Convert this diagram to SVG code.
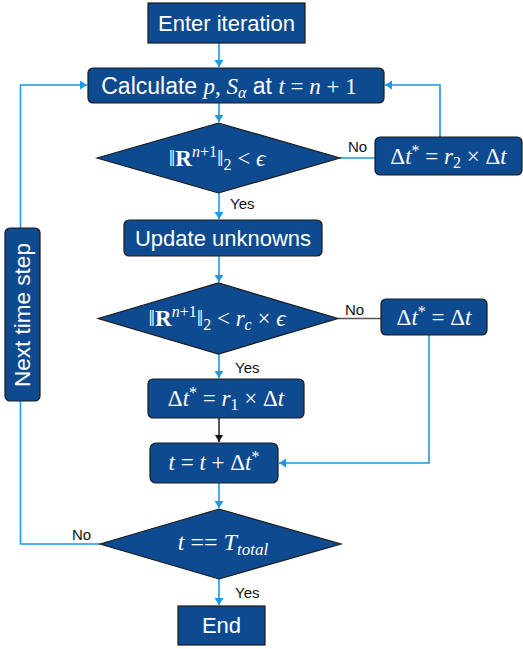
<svg xmlns="http://www.w3.org/2000/svg" width="523" height="649" viewBox="0 0 523 649">
<defs>
<marker id="ab" markerUnits="userSpaceOnUse" markerWidth="10" markerHeight="10" refX="7" refY="4.5" orient="auto"><path d="M0,0 L7,4.5 L0,9 Z" fill="#1a9ae6"/></marker>
<marker id="ak" markerUnits="userSpaceOnUse" markerWidth="10" markerHeight="10" refX="7" refY="4" orient="auto"><path d="M0,0 L7,4 L0,8 Z" fill="#111"/></marker>
<style>
.n{fill:#0e4a90;stroke:#1a1a1a;stroke-width:1.2}
.t{font-family:"Liberation Sans",Arial,sans-serif;font-size:22px;fill:#fff;text-anchor:middle}
.m{font-family:"Liberation Serif","DejaVu Serif",serif;font-size:23px;fill:#fff;text-anchor:middle}
.s{font-family:"Liberation Serif","DejaVu Serif",serif;font-size:23px}
.i{font-style:italic}
.b{font-weight:bold}
.l{font-family:"Liberation Sans",Arial,sans-serif;font-size:15px;fill:#111}
.c{fill:none;stroke:#1a9ae6;stroke-width:1.6}
.g{fill:none;stroke:#555;stroke-width:1.4}
.k{fill:none;stroke:#111;stroke-width:1.4}
</style>
</defs>
<g id="connectors">
<line class="c" x1="219" y1="43" x2="219" y2="67" marker-end="url(#ab)"/>
<line class="c" x1="219" y1="103" x2="219" y2="122" marker-end="url(#ab)"/>
<line class="c" x1="219" y1="193" x2="219" y2="219" marker-end="url(#ab)"/>
<line class="c" x1="340" y1="158" x2="375" y2="158"/>
<polyline class="c" points="440,137 440,85 385,85" marker-end="url(#ab)"/>
<line class="c" x1="219" y1="256" x2="219" y2="282" marker-end="url(#ab)"/>
<line class="g" x1="338" y1="318.5" x2="381" y2="318.5"/>
<polyline class="c" points="429,335 429,463 279,463" marker-end="url(#ab)"/>
<line class="c" x1="219" y1="354" x2="219" y2="378" marker-end="url(#ab)"/>
<line class="k" x1="219" y1="418" x2="219" y2="442" marker-end="url(#ak)"/>
<line class="c" x1="219" y1="483" x2="219" y2="508" marker-end="url(#ab)"/>
<line class="c" x1="219" y1="579" x2="219" y2="605" marker-end="url(#ab)"/>
<polyline class="c" points="100,544 20.5,544 20.5,85 87,85" marker-end="url(#ab)"/>
<text class="l" x="230" y="209">Yes</text>
<text class="l" x="348" y="152">No</text>
<text class="l" x="345" y="315">No</text>
<text class="l" x="235" y="373">Yes</text>
<text class="l" x="72" y="540">No</text>
<text class="l" x="235" y="598">Yes</text>
</g>
<g id="enter">
<rect class="n" x="148" y="3" width="157" height="40"/>
<text class="t" x="226.5" y="31">Enter iteration</text>
</g>
<g id="calculate">
<rect class="n" x="88" y="68" width="296" height="35" rx="5"/>
<text class="t" x="229" y="93.5" style="font-size:23px">Calculate <tspan class="s i">p</tspan><tspan class="s">, </tspan><tspan class="s i">S</tspan><tspan class="s i" dy="4" style="font-size:16px">α</tspan><tspan dy="-4"> at </tspan><tspan class="s i">t</tspan><tspan class="s"> = </tspan><tspan class="s i">n</tspan><tspan class="s"> + 1</tspan></text>
</g>
<g id="check1">
<polygon class="n" points="97,158 218.5,123 340,158 218.5,193"/>
<text class="m" x="217" y="166">‖<tspan class="b">R</tspan><tspan class="i" dy="-9" style="font-size:16px">n</tspan><tspan style="font-size:16px">+1</tspan><tspan dy="9">‖</tspan><tspan dy="4" style="font-size:16px">2</tspan><tspan dy="-4"> &lt; </tspan><tspan class="i">ϵ</tspan></text>
</g>
<g id="reduce2">
<rect class="n" x="375" y="137" width="147" height="38" rx="5"/>
<text class="m" x="448.5" y="164">Δ<tspan class="i">t</tspan><tspan dy="-8" style="font-size:16px">*</tspan><tspan dy="8"> = </tspan><tspan class="i">r</tspan><tspan dy="4" style="font-size:16px">2</tspan><tspan dy="-4"> × Δ</tspan><tspan class="i">t</tspan></text>
</g>
<g id="update">
<rect class="n" x="124" y="220" width="198" height="36" rx="5"/>
<text class="t" x="223" y="245.5">Update unknowns</text>
</g>
<g id="check2">
<polygon class="n" points="98,318.5 218.5,283 338,318.5 218.5,354"/>
<text class="m" x="217" y="326">‖<tspan class="b">R</tspan><tspan class="i" dy="-9" style="font-size:16px">n</tspan><tspan style="font-size:16px">+1</tspan><tspan dy="9">‖</tspan><tspan dy="4" style="font-size:16px">2</tspan><tspan dy="-4"> &lt; </tspan><tspan class="i">r</tspan><tspan class="i" dy="4" style="font-size:16px">c</tspan><tspan dy="-4"> × </tspan><tspan class="i">ϵ</tspan></text>
</g>
<g id="keep">
<rect class="n" x="381" y="299" width="106" height="36" rx="5"/>
<text class="m" x="434" y="325">Δ<tspan class="i">t</tspan><tspan dy="-8" style="font-size:16px">*</tspan><tspan dy="8"> = Δ</tspan><tspan class="i">t</tspan></text>
</g>
<g id="reduce1">
<rect class="n" x="148" y="379" width="156" height="39" rx="5"/>
<text class="m" x="226" y="406">Δ<tspan class="i">t</tspan><tspan dy="-8" style="font-size:16px">*</tspan><tspan dy="8"> = </tspan><tspan class="i">r</tspan><tspan dy="4" style="font-size:16px">1</tspan><tspan dy="-4"> × Δ</tspan><tspan class="i">t</tspan></text>
</g>
<g id="advance">
<rect class="n" x="150" y="443" width="128" height="40" rx="6"/>
<text class="m" x="214" y="470"><tspan class="i">t</tspan> = <tspan class="i">t</tspan> + Δ<tspan class="i">t</tspan><tspan dy="-8" style="font-size:16px">*</tspan></text>
</g>
<g id="check3">
<polygon class="n" points="100,544 219,509 341,544 219,579"/>
<text class="m" x="223" y="550" style="font-size:24px"><tspan class="i">t</tspan> == <tspan class="i">T</tspan><tspan class="i" dy="5" style="font-size:17px">total</tspan></text>
</g>
<g id="end">
<rect class="n" x="178" y="606" width="87" height="39"/>
<text class="t" x="221.5" y="633">End</text>
</g>
<g id="nextstep">
<rect class="n" x="5" y="228" width="35" height="173" rx="5"/>
<text class="t" transform="translate(30,315) rotate(-90)" x="0" y="0" style="font-size:22.5px">Next time step</text>
</g>
</svg>
